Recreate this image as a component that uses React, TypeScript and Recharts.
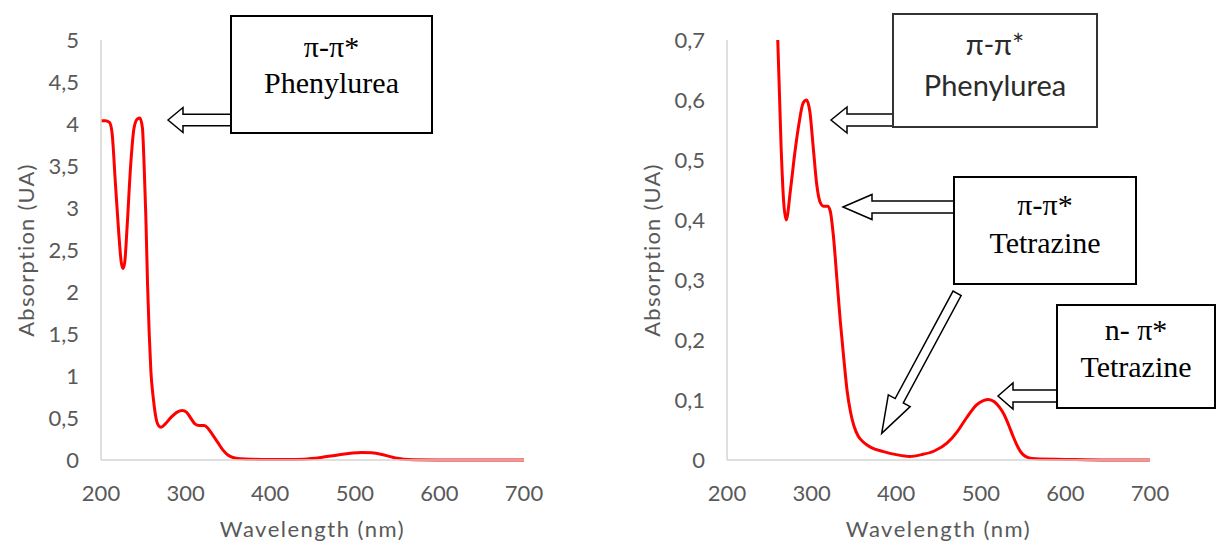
import { LineChart, Line, XAxis, YAxis } from "recharts";

// tick values shared by both panels
const xTicks = [200, 300, 400, 500, 600, 700];
const leftYTicks = [0, 0.5, 1, 1.5, 2, 2.5, 3, 3.5, 4, 4.5, 5];
const rightYTicks = [0, 0.1, 0.2, 0.3, 0.4, 0.5, 0.6, 0.7];

// left panel: full spectrum (nm / absorbance)
const leftWavelength = [
  200, 205, 210, 213, 217, 221, 224, 226, 228, 231, 235, 239, 243, 246, 249, 251,
  253, 255, 257, 259, 262, 265, 268, 271, 276, 283, 290, 296, 301, 306, 311, 316,
  322, 327, 332, 338, 344, 350, 356, 365, 380, 400, 420, 440, 460, 480, 495, 508,
  520, 532, 542, 550, 558, 570, 600, 650, 700,
];
const leftAbsorption = [
  4.04, 4.04, 4.02, 3.9, 3.3, 2.7, 2.35, 2.28, 2.35, 2.8, 3.5, 3.95, 4.06, 4.07, 3.95, 3.5,
  2.9, 2.1, 1.5, 1.05, 0.72, 0.5, 0.41, 0.39, 0.43, 0.51, 0.57, 0.59, 0.57, 0.5, 0.43, 0.41,
  0.41, 0.37, 0.3, 0.21, 0.12, 0.06, 0.03, 0.015, 0.008, 0.005, 0.005, 0.01, 0.03, 0.06, 0.08, 0.09,
  0.085, 0.065, 0.04, 0.02, 0.008, 0.003, 0.001, 0, 0,
];

// right panel: zoom on the low absorbance part
const rightWavelength = [
  260, 264, 267, 270, 275, 280, 285, 290, 294, 298, 302, 306, 310, 314, 319, 322,
  326, 330, 334, 338, 342, 346, 350, 355, 361, 370, 385, 400, 416, 430, 445, 460,
  472, 483, 495, 503, 509, 516, 522, 527, 533, 538, 542, 546, 550, 556, 565, 600,
  650, 700,
];
const rightAbsorption = [
  0.7, 0.52, 0.43, 0.4, 0.45, 0.51, 0.56, 0.595, 0.6, 0.58, 0.52, 0.46, 0.43, 0.423, 0.423, 0.415,
  0.37, 0.3, 0.23, 0.17, 0.115, 0.08, 0.057, 0.04, 0.03, 0.021, 0.014, 0.009, 0.006, 0.009, 0.015, 0.028,
  0.047, 0.07, 0.092, 0.099, 0.101, 0.097, 0.088, 0.077, 0.058, 0.04, 0.027, 0.016, 0.009, 0.004, 0.002, 0.001,
  0, 0,
];

const leftData = leftWavelength.map((wl, i) => ({ wl, abs: leftAbsorption[i] }));
const rightData = rightWavelength.map((wl, i) => ({ wl, abs: rightAbsorption[i] }));

const AXIS_TEXT = "#595959";
const AXIS_LINE = "#d4d4d4";
const SANS = "Lato, 'Noto Sans', sans-serif";
const SERIF = "'Liberation Serif', 'Times New Roman', serif";

const comma = (v: number) => String(v).replace(".", ",");

function YTitle({ viewBox }: any) {
  const cx = viewBox.x + viewBox.width - 76;
  const cy = viewBox.y + viewBox.height / 2;
  return (
    <text
      x={cx}
      y={cy}
      transform={`rotate(-90 ${cx} ${cy})`}
      textAnchor="middle"
      dominantBaseline="central"
      fill={AXIS_TEXT}
      fontSize={22}
      letterSpacing={1.2}
      fontFamily={SANS}
    >
      Absorption (UA)
    </text>
  );
}

function XTitle({ viewBox }: any) {
  const cx = viewBox.x + viewBox.width / 2;
  const cy = viewBox.y + 68;
  return (
    <text
      x={cx}
      y={cy}
      textAnchor="middle"
      dominantBaseline="central"
      fill={AXIS_TEXT}
      fontSize={22}
      letterSpacing={1.5}
      fontFamily={SANS}
    >
      Wavelength (nm)
    </text>
  );
}

function Spectrum({ data, yMax, yTicks, axisWidth, width }: any) {
  return (
    <LineChart
      width={width}
      height={544}
      data={data}
      margin={{ top: 40, right: width - axisWidth - 423, left: 0, bottom: 0 }}
    >
      <XAxis
        type="number"
        dataKey="wl"
        domain={[200, 700]}
        ticks={xTicks}
        height={84}
        tickSize={0}
        tickMargin={25}
        tickLine={false}
        axisLine={{ stroke: AXIS_LINE, strokeWidth: 1.5 }}
        tick={{ fill: AXIS_TEXT, fontSize: 22, fontFamily: SANS }}
        label={<XTitle />}
      />
      <YAxis
        type="number"
        domain={[0, yMax]}
        ticks={yTicks}
        width={axisWidth}
        tickSize={0}
        tickMargin={22}
        tickLine={false}
        tickFormatter={comma}
        axisLine={{ stroke: AXIS_LINE, strokeWidth: 1.5 }}
        tick={{ fill: AXIS_TEXT, fontSize: 22, fontFamily: SANS }}
        label={<YTitle />}
      />
      <Line
        type="monotone"
        dataKey="abs"
        stroke="#ff0000"
        strokeWidth={3}
        dot={false}
        activeDot={false}
        isAnimationActive={false}
      />
    </LineChart>
  );
}

// hollow block arrow, tip at (x, y), body going back along `angle`
function BlockArrow({ x, y, angle, length, head, headHalf, shaftHalf }: any) {
  const pts = [
    [0, 0],
    [head, -headHalf],
    [head, -shaftHalf],
    [length, -shaftHalf],
    [length, shaftHalf],
    [head, shaftHalf],
    [head, headHalf],
  ]
    .map((p) => p.join(","))
    .join(" ");
  return (
    <polygon
      points={pts}
      transform={`translate(${x} ${y}) rotate(${angle})`}
      fill="#fff"
      stroke="#000"
      strokeWidth={1.5}
      strokeLinejoin="miter"
    />
  );
}

function Box({ x, y, w, h, lines, font, size, color, stroke }: any) {
  return (
    <g>
      <rect x={x} y={y} width={w} height={h} fill="#fff" stroke={stroke} strokeWidth={2} />
      {lines.map((l: any, i: number) => (
        <text
          key={i}
          x={x + w / 2}
          y={l.y}
          textAnchor="middle"
          fontFamily={font}
          fontSize={size}
          fill={color}
        >
          {l.text}
        </text>
      ))}
    </g>
  );
}

export default function App() {
  return (
    <div style={{ position: "absolute", left: 0, top: 0, width: 1216, height: 544, background: "#fff" }}>
      <div style={{ position: "absolute", left: 0, top: 0 }}>
        <Spectrum data={leftData} yMax={5} yTicks={leftYTicks} axisWidth={101} width={600} />
      </div>
      <div style={{ position: "absolute", left: 600, top: 0 }}>
        <Spectrum data={rightData} yMax={0.7} yTicks={rightYTicks} axisWidth={127} width={616} />
      </div>
      <svg
        width={1216}
        height={544}
        style={{ position: "absolute", left: 0, top: 0, pointerEvents: "none" }}
      >
        <BlockArrow x={168} y={120} angle={0} length={63} head={15} headHalf={12.5} shaftHalf={5.7} />
        <BlockArrow x={831} y={120} angle={0} length={63} head={16} headHalf={13} shaftHalf={6} />
        <BlockArrow x={843} y={207} angle={0} length={112} head={29} headHalf={12.5} shaftHalf={6} />
        <BlockArrow x={998} y={396} angle={0} length={60} head={15} headHalf={13} shaftHalf={6} />
        <BlockArrow x={881.7} y={433.3} angle={-61.7} length={159} head={37} headHalf={12.4} shaftHalf={4.6} />

        <Box
          x={231} y={16} w={201} h={117}
          font={SERIF} size={30} color="#000" stroke="#000"
          lines={[{ text: "π-π*", y: 57 }, { text: "Phenylurea", y: 93 }]}
        />
        <Box
          x={893} y={14} w={204} h={113}
          font={SANS} size={29} color="#2b2b2b" stroke="#333"
          lines={[{ text: "π-π*", y: 55 }, { text: "Phenylurea", y: 96 }]}
        />
        <Box
          x={954} y={177} w={182} h={107}
          font={SERIF} size={30} color="#000" stroke="#000"
          lines={[{ text: "π-π*", y: 215 }, { text: "Tetrazine", y: 253 }]}
        />
        <Box
          x={1057} y={305} w={158} h={103}
          font={SERIF} size={30} color="#000" stroke="#000"
          lines={[{ text: "n- π*", y: 340 }, { text: "Tetrazine", y: 377 }]}
        />
      </svg>
    </div>
  );
}
